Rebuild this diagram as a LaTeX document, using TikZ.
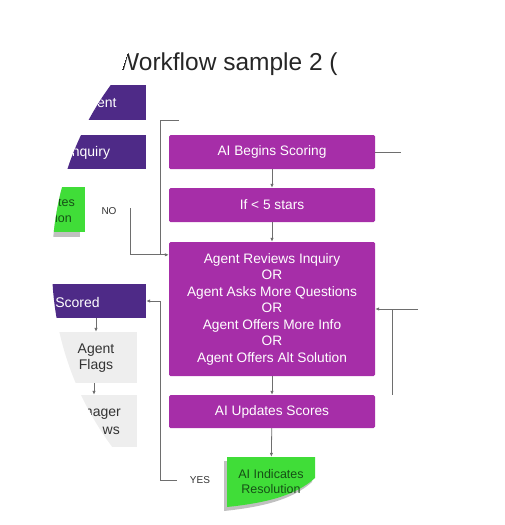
\documentclass[tikz,border=0pt]{standalone}
\usepackage{fontspec}
\setmainfont{Liberation Sans}
\usetikzlibrary{arrows.meta,calc}
\definecolor{mag}{RGB}{166,46,168}
\definecolor{dpur}{RGB}{78,42,135}
\definecolor{grn}{RGB}{64,221,56}
\definecolor{grntxt}{RGB}{22,80,22}
\definecolor{lgray}{RGB}{238,238,238}
\definecolor{lin}{RGB}{110,110,110}
\tikzset{
 magbox/.style={fill=mag, draw=none, rounded corners=1.5pt, minimum width=206pt, text=white, font=\fontsize{13.7}{16.5}\selectfont, align=center, inner sep=0pt},
 purbox/.style={fill=dpur, draw=none, inner sep=0pt},
 graybox/.style={fill=lgray, draw=none, inner sep=0pt},
 wtxt/.style={text=white, font=\fontsize{14}{16}\selectfont, inner sep=0pt},
 gtxt/.style={text=black!80, font=\fontsize{14}{16.5}\selectfont, inner sep=0pt, align=center},
 grtxt/.style={text=grntxt, font=\fontsize{12.5}{15}\selectfont, inner sep=0pt, align=center},
 con/.style={draw=lin, line width=0.8pt},
 arr/.style={con, -{Latex[length=4pt,width=3.5pt]}},
 lab/.style={text=black!80, font=\fontsize{10}{12}\selectfont, inner sep=0pt},
 shad/.style={fill=black!45, opacity=0.55},
}
\begin{document}
\begin{tikzpicture}[x=1pt,y=-1pt]
\useasboundingbox (0,0) rectangle (504,525);
% title, cut by the round mask
\begin{scope}
\clip (132,40) -- (420,40) -- (420,85) -- (119,85) -- (121,72) -- cycle;
\node[anchor=base west, inner sep=0pt, font=\fontsize{24.5}{29}\selectfont, text=black!85] (title) at (116,70) {Workflow sample 2 (};
\end{scope}
\begin{scope}
\clip (357,265) circle [radius=305pt];
% left column
\node[purbox, minimum width=110pt, minimum height=35pt] (ag) at (91,102.5) {};
\node[wtxt] (agt) at (103,104) {gent};
\node[purbox, minimum width=110pt, minimum height=34pt] (inq) at (91,152) {};
\node[wtxt] (inqt) at (89,153) {Inquiry};
\fill[shad] (-8,191) rectangle (80,237);
\fill[grn] (-3,187) rectangle (85,232);
\node[grtxt, anchor=east] (gt1) at (75,203) {tes};
\node[grtxt, anchor=east] (gt2) at (72,218) {ion};
\node[lab] (no) at (109,211) {NO};
\node[purbox, minimum width=110pt, minimum height=34pt] (sc) at (91,301) {};
\node[wtxt] (sct) at (77.5,302) {Scored};
\node[graybox, minimum width=97pt, minimum height=51pt] (fl) at (88.5,357.5) {};
\node[gtxt] (flt) at (96,358) {Agent\\Flags};
\node[graybox, minimum width=97pt, minimum height=52pt] (mg) at (88.5,421) {};
\node[gtxt, anchor=east] (mgt1) at (121,414) {nager};
\node[gtxt, anchor=east] (mgt2) at (120,431) {ws};
\coordinate (ax1) at (96,0);
\coordinate (ax2) at (94,0);
\draw[arr] (ax1 |- sc.south) -- (ax1 |- fl.north);
\draw[arr] (ax2 |- fl.south) -- (ax2 |- mg.north);
% main column
\node[magbox, minimum height=34pt] (bs) at (272,152) {AI Begins Scoring};
\node[magbox, minimum height=34pt] (lt) at (272,205) {If < 5 stars};
\node[magbox, minimum height=134pt] (rev) at (272,309) {Agent Reviews Inquiry\\OR\\Agent Asks More Questions\\OR\\Agent Offers More Info\\OR\\Agent Offers Alt Solution};
\node[magbox, minimum height=33pt] (upd) at (272,411.5) {AI Updates Scores};
\fill[shad] (224,461) -- (312,461) -- (312,482) .. controls (292,500) and (262,507) .. (224,511) -- cycle;
\fill[grn] (227,457) -- (315,457) -- (315,478) .. controls (295,496) and (265,503) .. (227,507) -- cycle;
\node[grtxt, minimum width=88pt, minimum height=50pt] (res) at (271,482) {AI Indicates\\Resolution};
\draw[arr] (bs) -- (lt);
\draw[arr] (lt) -- (rev);
\draw[arr] (rev) -- (upd);
\draw[arr] (upd) -- (res);
% connectors
\coordinate (t1) at (179,120);
\coordinate (t2) at (160,120);
\path (rev.north west) ++(0,13) coordinate (ein);
\coordinate (no1) at (130,208);
\draw[con] (t1) -- (t2) -- (t2 |- ein);
\draw[arr] (no1) |- (ein);
\coordinate (bsr) at (401,152);
\draw[con] (bs.east) -- (bsr);
\coordinate (r1) at (418,309);
\draw[arr] (r1) -- (rev.east);
\coordinate (r2) at (392,309);
\coordinate (r3) at (392,395);
\draw[con] (r2) -- (r3);
\coordinate (l1) at (160,301);
\coordinate (l2) at (160,480);
\coordinate (l3) at (177,480);
\draw[arr] (l1) -- (sc.east);
\draw[con] (l1) -- (l2) -- (l3);
\node[lab] (yes) at (200,480) {YES};
\end{scope}
\end{tikzpicture}
\end{document}
